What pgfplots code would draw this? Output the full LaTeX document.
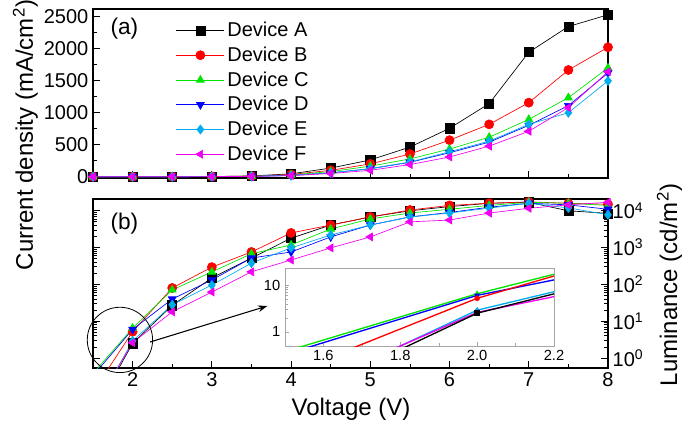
\documentclass[border=0pt]{standalone}
\usepackage{pgfplots}
\pgfplotsset{compat=1.18}
\usepackage{pgfplotstable}
\usepackage{fontspec}
\setmainfont{Liberation Sans}
\usetikzlibrary{arrows.meta}

% current density (mA/cm^2)
\pgfplotstableread{
V    A     B     C     D     E     F
1.5  0     0     0     0     0     0
2.0  0     0     0     0     0     0
2.5  1     1     1     0     0     0
3.0  3     3     2     2     2     2
3.5  12    10    8     6     6     5
4.0  45    35    28    20    20    17
4.5  135   100   80    60    60    50
5.0  262   200   165   125   125   100
5.5  463   355   278   225   230   190
6.0  756   571   432   375   390   308
6.5  1142  818   617   540   555   478
7.0  1944  1157  895   802   818   710
7.5  2346  1667  1235  1111  1000  1080
8.0  2530  2022  1700  1620  1497  1640
}\jtab

% luminance (cd/m^2)
\pgfplotstableread{
V    A      B      C      D      E      F
1.5  0.029  0.12   0.38   0.33   0.036  0.042
2.0  2.5    5.2    6.5    6.0    2.9    2.6
2.5  27     80     71     40     28     18
3.0  150    295    218    132    96     62
3.5  520    760    680    520    380    220
4.0  1800   2500   1180   760    980    460
4.5  4100   4100   3200   1950   2200   980
5.0  6800   6800   6000   4100   4100   1950
5.5  10000  10500  8700   6800   6800   5000
6.0  13000  14000  11000  9000   8700   5600
6.5  16000  16000  14000  12500  11800  8700
7.0  17000  17500  17000  16000  16000  11700
7.5  10000  16000  16000  14500  12000  14500
8.0  8500   15000  14000  11000  7800   17000
}\ltab

\definecolor{dgreen}{RGB}{0,230,0}
\definecolor{dmag}{RGB}{240,0,240}
\pgfplotsset{
  devA/.style={black, mark=square*, mark options={fill=black}},
  devB/.style={red, mark=*, mark options={fill=red}},
  devC/.style={dgreen, mark=triangle*, mark options={fill=dgreen}},
  devD/.style={blue, mark=triangle*, mark options={fill=blue, rotate=180}},
  devE/.style={cyan, mark=diamond*, mark options={fill=cyan}},
  devF/.style={dmag, mark=triangle*, mark options={fill=dmag, rotate=90}},
  panel/.style={
    scale only axis, width=386.25pt, height=126.75pt,
    xmin=1.5, xmax=8,
    xtick={2,...,8}, minor xtick={1.5,2.5,...,7.5},
    xtick pos=bottom,
    tick align=inside,
    major tick length=5pt, minor tick length=3pt,
    tick style={black, line width=0.6pt},
    axis line style={line width=0.9pt},
    ticklabel style={font=\fontsize{15}{17}\selectfont},
    /pgf/number format/assume math mode=true,
    every axis plot/.append style={line width=0.5pt, mark size=3.4pt},
  },
}

\begin{document}
\begin{tikzpicture}
\useasboundingbox (-69.75pt,-43.5pt) rectangle (444pt,276pt);

% (a) current density
\begin{axis}[panel,
  at={(0pt,142.5pt)}, anchor=south west,
  ymin=-20, ymax=2620,
  ytick={0,500,...,2500}, minor ytick={250,750,...,2250},
  ytick pos=left,
  xticklabels={},
  yticklabel style={/pgf/number format/1000 sep={}},
  legend style={draw=none, fill=none, at={(0.153,0.955)}, anchor=north west,
    font=\fontsize{15}{17}\selectfont, row sep=2.2pt,
    legend cell align=left},
  legend image code/.code={\draw[mark repeat=2, mark phase=2]
    plot coordinates {(0pt,0pt) (18pt,0pt) (36pt,0pt)};},
]
\addplot[devA] table[x=V, y=A] {\jtab};
\addplot[devB] table[x=V, y=B] {\jtab};
\addplot[devC] table[x=V, y=C] {\jtab};
\addplot[devD] table[x=V, y=D] {\jtab};
\addplot[devE] table[x=V, y=E] {\jtab};
\addplot[devF] table[x=V, y=F] {\jtab};
\legend{Device A, Device B, Device C, Device D, Device E, Device F}
\node[anchor=west, font=\fontsize{17}{19}\selectfont] at (rel axis cs:0.025,0.885) {(a)};
\end{axis}

% (b) luminance
\begin{axis}[panel,
  at={(0pt,0pt)}, anchor=south west,
  ymode=log, ymin=0.535, ymax=20900,
  ytick={1,10,100,1000,10000},
  yticklabels={10\textsuperscript{0},10\textsuperscript{1},10\textsuperscript{2},10\textsuperscript{3},10\textsuperscript{4}},
  yticklabel pos=right, ytick pos=both,
]
\addplot[devA] table[x=V, y=A] {\ltab};
\addplot[devB] table[x=V, y=B] {\ltab};
\addplot[devC] table[x=V, y=C] {\ltab};
\addplot[devD] table[x=V, y=D] {\ltab};
\addplot[devE] table[x=V, y=E] {\ltab};
\addplot[devF] table[x=V, y=F] {\ltab};
\node[anchor=west, font=\fontsize{17}{19}\selectfont] at (rel axis cs:0.025,0.855) {(b)};
\coordinate (cc) at (axis cs:1.84,3.1);
\coordinate (a1) at (axis cs:2.22,2.72);
\coordinate (a2) at (axis cs:3.70,25.9);
\end{axis}

\draw[line width=0.6pt] (cc) circle (24.5pt);
\draw[line width=0.8pt, -{Stealth[length=7pt, width=5pt]}] (a1) -- (a2);

% inset
\begin{axis}[
  at={(144pt,16.5pt)}, anchor=south west,
  scale only axis, width=201.75pt, height=58.5pt,
  axis background/.style={fill=white},
  axis line style={gray!70, line width=0.6pt},
  xmin=1.5, xmax=2.2,
  ymode=log, ymin=0.5, ymax=23,
  xtick={1.6,1.8,2.0,2.2}, minor xtick={1.7,1.9,2.1},
  ytick={1,10}, yticklabels={1,10},
  xtick pos=bottom, ytick pos=left,
  tick align=inside,
  major tick length=3pt, minor tick length=2pt,
  tick style={gray!70},
  ticklabel style={font=\fontsize{11}{13}\selectfont},
  /pgf/number format/assume math mode=true,
  /pgf/number format/.cd, fixed, fixed zerofill, precision=1,
  /pgfplots/.cd,
  every axis plot/.append style={line width=1pt, mark size=1.6pt},
]
\addplot[devC] table[x=V, y=C] {\ltab};
\addplot[devD] table[x=V, y=D] {\ltab};
\addplot[devB] table[x=V, y=B] {\ltab};
\addplot[devE] table[x=V, y=E] {\ltab};
\addplot[devF] table[x=V, y=F] {\ltab};
\addplot[devA] table[x=V, y=A] {\ltab};
\end{axis}

% axis titles
\node[rotate=90, anchor=base, font=\fontsize{18}{20}\selectfont] at (-45pt,174.75pt)
  {Current density (mA/cm\textsuperscript{2})};
\node[rotate=90, anchor=base, font=\fontsize{18}{20}\selectfont] at (438pt,62.25pt)
  {Luminance (cd/m\textsuperscript{2})};
\node[anchor=base, font=\fontsize{18}{20}\selectfont] at (193.5pt,-35.25pt) {Voltage (V)};
\end{tikzpicture}
\end{document}
